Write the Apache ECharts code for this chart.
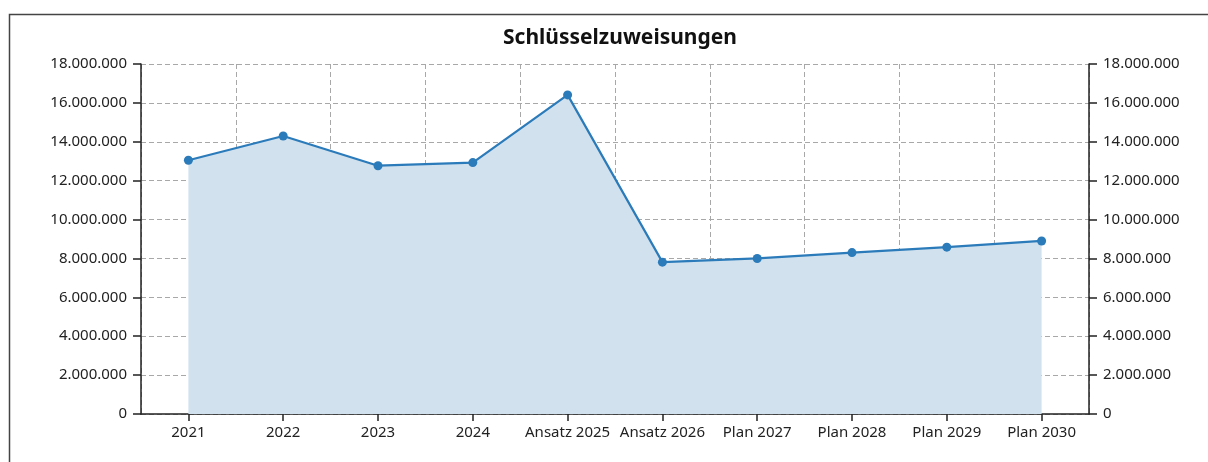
<!DOCTYPE html>
<html>
<head>
<meta charset="utf-8">
<script src="https://cdn.jsdelivr.net/npm/echarts@6/dist/echarts.min.js"></script>
<style>
  html, body { margin: 0; padding: 0; background: #fff; }
  #chart { width: 1208px; height: 462px; }
</style>
</head>
<body>
<div id="chart"></div>
<script>
var categories = ['2021', '2022', '2023', '2024', 'Ansatz 2025', 'Ansatz 2026', 'Plan 2027', 'Plan 2028', 'Plan 2029', 'Plan 2030'];
var values = [13050000, 14300000, 12770000, 12930000, 16410000, 7810000, 8000000, 8300000, 8580000, 8900000];
var yTicks = { min: 0, max: 18000000, interval: 2000000 };

var myChart = echarts.init(document.getElementById('chart'));
var font = '"Noto Sans", sans-serif';

function fmt(v) {
  return v.toLocaleString('de-DE');
}

var splitDash = { show: true, lineStyle: { color: '#a8a8a8', type: [5, 3], width: 1 } };

option = {
  animation: false,
  title: {
    text: 'Schlüsselzuweisungen',
    left: 615,
    textAlign: 'center',
    top: 23,
    textStyle: { fontFamily: font, fontSize: 21, fontWeight: 'bold', color: '#111' }
  },
  graphic: [{
    type: 'polyline',
    shape: { points: [[9.5, 470], [9.5, 14.5], [1210, 14.5]] },
    style: { stroke: '#444', lineWidth: 1.5, fill: null },
    silent: true
  }],
  grid: { left: 141, right: 119, top: 64, bottom: 48 },
  xAxis: {
    type: 'category',
    data: categories,
    boundaryGap: true,
    axisLine: { lineStyle: { color: '#222', width: 1.5 } },
    axisTick: { show: true, alignWithLabel: true, length: 7, lineStyle: { color: '#222', width: 1.5 } },
    axisLabel: { margin: 11, color: '#222', fontFamily: font, fontSize: 15, interval: 0 },
    splitLine: splitDash
  },
  yAxis: [{
    type: 'value',
    position: 'left',
    min: yTicks.min, max: yTicks.max, interval: yTicks.interval,
    axisLine: { show: true, lineStyle: { color: '#222', width: 1.5 } },
    axisTick: { show: true, length: 8, lineStyle: { color: '#222', width: 1.5 } },
    axisLabel: { margin: 14, color: '#222', fontFamily: font, fontSize: 15, formatter: fmt },
    splitLine: splitDash
  }, {
    type: 'value',
    position: 'right',
    min: yTicks.min, max: yTicks.max, interval: yTicks.interval,
    axisLine: { show: true, lineStyle: { color: '#222', width: 1.5 } },
    axisTick: { show: true, length: 8, lineStyle: { color: '#222', width: 1.5 } },
    axisLabel: { margin: 14, color: '#222', fontFamily: font, fontSize: 15, formatter: fmt },
    splitLine: { show: false }
  }],
  series: [{
    name: 'Schlüsselzuweisungen',
    type: 'line',
    data: values,
    symbol: 'circle',
    symbolSize: 9,
    lineStyle: { color: '#2b7bba', width: 2.2 },
    itemStyle: { color: '#2b7bba' },
    areaStyle: { color: '#d1e1ee', opacity: 1 }
  }]
};

myChart.setOption(option);
</script>
</body>
</html>
